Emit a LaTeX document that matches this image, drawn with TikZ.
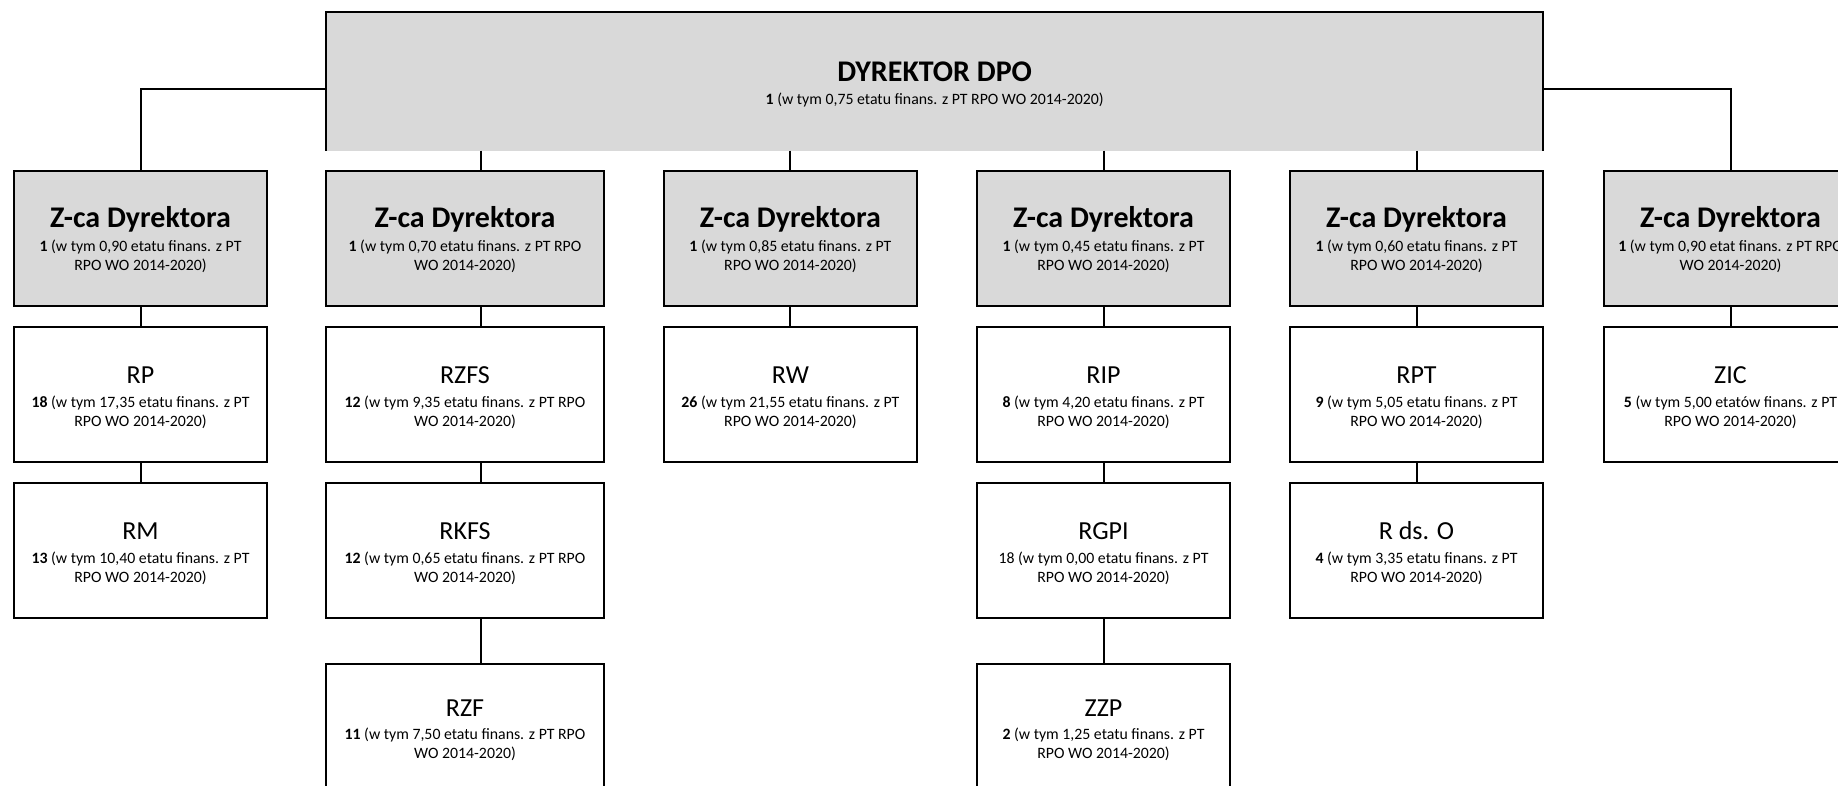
\documentclass[tikz,border=0pt]{standalone}
\usepackage{fontspec}
\setmainfont{Carlito}
\definecolor{boxgray}{HTML}{D9D9D9}
\tikzset{
  obox/.style={draw=black, line width=2pt, minimum height=135pt, inner sep=0pt, outer sep=0pt},
  gbox/.style={obox, fill=boxgray},
  wbox/.style={obox, fill=white},
  conn/.style={draw=black, line width=2pt},
  ttlz/.style={font=\fontsize{30}{36}\selectfont\bfseries, inner sep=0pt, anchor=base},
  ttlr/.style={font=\fontsize{26}{31}\selectfont, inner sep=0pt, anchor=base},
  subt/.style={font=\fontsize{15.8}{19}\selectfont, inner sep=0pt, anchor=base},
}
\def\tshift{0}
\newcommand\orgbox[9]{%
  \node[#5, minimum width=#4pt] (#1) at (#2,#3) {};
  \node[#6] (#1t) at ([yshift={(-57+\tshift)*1pt}]#1.north) {#7};
  \node[subt] (#1a) at ([yshift={(-80.6+\tshift)*1pt}]#1.north) {#8};
  \node[subt] (#1b) at ([yshift={(-99.3+\tshift)*1pt}]#1.north) {#9};
}
\begin{document}
\begin{tikzpicture}[x=1pt, y=-1pt]
\useasboundingbox (0,0) rectangle (1838,785);
\clip (0,0) rectangle (1838,785);
\fill[white] (0,0) rectangle (1838,785);

% top box (no bottom border)
\node[fill=boxgray, minimum width=1217.3pt, minimum height=139pt, inner sep=0pt, outer sep=0pt] (dyr) at (934.65,81.2) {};
\draw[conn] (dyr.south west) -- (dyr.north west) -- (dyr.north east) -- (dyr.south east);
\node[ttlz] (dyrt) at (934.65,81.7) {DYREKTOR DPO};
\node[subt] (dyra) at (934.65,104) {\textbf{1} (w tym 0,75 etatu finans. z PT RPO WO 2014-2020)};

% level 2
\orgbox{z1}{140.5}{238.2}{253.5}{gbox}{ttlz}{Z-ca Dyrektora}{\textbf{1} (w tym 0,90 etatu finans. z PT}{RPO WO 2014-2020)}
\orgbox{z2}{465}{238.2}{278}{gbox}{ttlz}{Z-ca Dyrektora}{\textbf{1} (w tym 0,70 etatu finans. z PT RPO}{WO 2014-2020)}
\orgbox{z3}{790.4}{238.2}{253}{gbox}{ttlz}{Z-ca Dyrektora}{\textbf{1} (w tym 0,85 etatu finans. z PT}{RPO WO 2014-2020)}
\orgbox{z4}{1103.5}{238.2}{253.5}{gbox}{ttlz}{Z-ca Dyrektora}{\textbf{1} (w tym 0,45 etatu finans. z PT}{RPO WO 2014-2020)}
\orgbox{z5}{1416.5}{238.2}{253.5}{gbox}{ttlz}{Z-ca Dyrektora}{\textbf{1} (w tym 0,60 etatu finans. z PT}{RPO WO 2014-2020)}
\orgbox{z6}{1730.5}{238.2}{253.5}{gbox}{ttlz}{Z-ca Dyrektora}{\textbf{1} (w tym 0,90 etat finans. z PT RPO}{WO 2014-2020)}

% level 3
\orgbox{rp}{140.5}{394.2}{253.5}{wbox}{ttlr}{RP}{\textbf{18} (w tym 17,35 etatu finans. z PT}{RPO WO 2014-2020)}
\orgbox{rzfs}{465}{394.2}{278}{wbox}{ttlr}{RZFS}{\textbf{12} (w tym 9,35 etatu finans. z PT RPO}{WO 2014-2020)}
\orgbox{rw}{790.4}{394.2}{253}{wbox}{ttlr}{RW}{\textbf{26} (w tym 21,55 etatu finans. z PT}{RPO WO 2014-2020)}
\orgbox{rip}{1103.5}{394.2}{253.5}{wbox}{ttlr}{RIP}{\textbf{8} (w tym 4,20 etatu finans. z PT}{RPO WO 2014-2020)}
\orgbox{rpt}{1416.5}{394.2}{253.5}{wbox}{ttlr}{RPT}{\textbf{9} (w tym 5,05 etatu finans. z PT}{RPO WO 2014-2020)}
\orgbox{zic}{1730.5}{394.2}{253.5}{wbox}{ttlr}{ZIC}{\textbf{5} (w tym 5,00 etatów finans. z PT}{RPO WO 2014-2020)}

% level 4
\orgbox{rm}{140.5}{550.2}{253.5}{wbox}{ttlr}{RM}{\textbf{13} (w tym 10,40 etatu finans. z PT}{RPO WO 2014-2020)}
\orgbox{rkfs}{465}{550.2}{278}{wbox}{ttlr}{RKFS}{\textbf{12} (w tym 0,65 etatu finans. z PT RPO}{WO 2014-2020)}
\orgbox{rgpi}{1103.5}{550.2}{253.5}{wbox}{ttlr}{RGPI}{18 (w tym 0,00 etatu finans. z PT}{RPO WO 2014-2020)}
\orgbox{rdso}{1416.5}{550.2}{253.5}{wbox}{ttlr}{R ds. O}{\textbf{4} (w tym 3,35 etatu finans. z PT}{RPO WO 2014-2020)}

% level 5
\def\tshift{5}
\orgbox{rzf}{465}{731.8}{278}{wbox}{ttlr}{RZF}{\textbf{11} (w tym 7,50 etatu finans. z PT RPO}{WO 2014-2020)}
\orgbox{zzp}{1103.5}{731.8}{253.5}{wbox}{ttlr}{ZZP}{\textbf{2} (w tym 1,25 etatu finans. z PT}{RPO WO 2014-2020)}

% connectors from director
\draw[conn] (dyr.west |- 0,89) -| (z1.north);
\draw[conn] (dyr.east |- 0,89) -| (z6.north);
\draw[conn] (dyr.south -| 480.6,0) -- (z2.north -| 480.6,0);
\draw[conn] (dyr.south -| z3.north) -- (z3.north);
\draw[conn] (dyr.south -| z4.north) -- (z4.north);
\draw[conn] (dyr.south -| z5.north) -- (z5.north);

% column connectors
\draw[conn] (z1.south) -- (rp.north);
\draw[conn] (rp.south) -- (rm.north);
\draw[conn] (z2.south -| 480.6,0) -- (rzfs.north -| 480.6,0);
\draw[conn] (rzfs.south -| 480.6,0) -- (rkfs.north -| 480.6,0);
\draw[conn] (rkfs.south -| 480.6,0) -- (rzf.north -| 480.6,0);
\draw[conn] (z3.south) -- (rw.north);
\draw[conn] (z4.south) -- (rip.north);
\draw[conn] (rip.south) -- (rgpi.north);
\draw[conn] (rgpi.south) -- (zzp.north);
\draw[conn] (z5.south) -- (rpt.north);
\draw[conn] (rpt.south) -- (rdso.north);
\draw[conn] (z6.south) -- (zic.north);
\end{tikzpicture}
\end{document}
